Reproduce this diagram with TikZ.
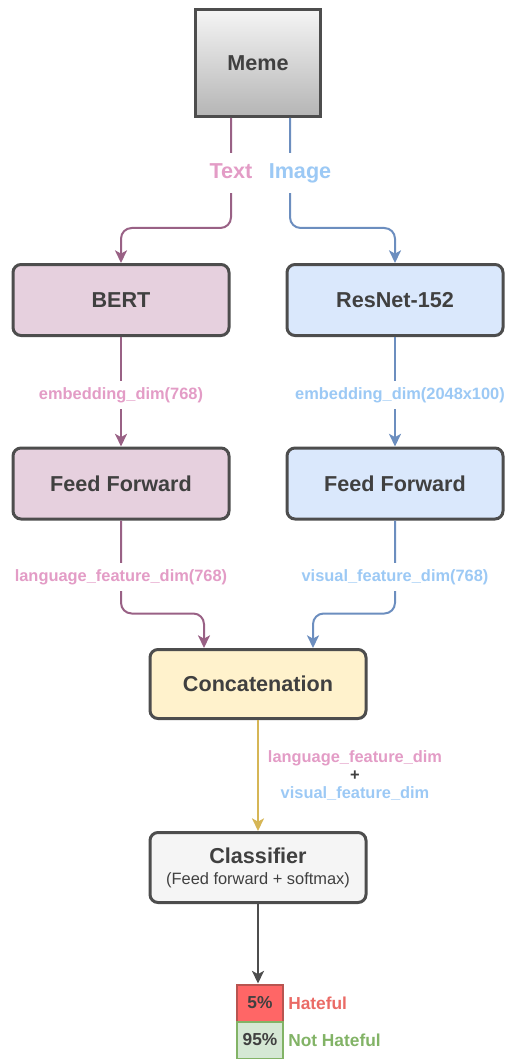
\documentclass[tikz,border=0pt]{standalone}
\usepackage{fontspec}
\setmainfont{Liberation Sans}
\usetikzlibrary{positioning,calc,arrows.meta}

\definecolor{boxline}{HTML}{4D4D4D}
\definecolor{labeltext}{HTML}{404040}
\definecolor{textpink}{HTML}{E39CC6}
\definecolor{imgblue}{HTML}{9CC9F5}
\definecolor{textline}{HTML}{996185}
\definecolor{imgline}{HTML}{6C8EBF}
\definecolor{bertfill}{HTML}{E6D0DE}
\definecolor{resfill}{HTML}{DAE8FC}
\definecolor{concatfill}{HTML}{FFF2CC}
\definecolor{concatline}{HTML}{D6B656}
\definecolor{clsfill}{HTML}{F5F5F5}
\definecolor{hatefill}{HTML}{FF6666}
\definecolor{hateline}{HTML}{B85450}
\definecolor{hatetext}{HTML}{EA6B66}
\definecolor{okfill}{HTML}{D5E8D4}
\definecolor{okline}{HTML}{82B366}

\tikzset{
  bigfont/.style={font=\fontsize{16.2}{18.5}\selectfont\bfseries},
  dimfont/.style={font=\fontsize{12.3}{13.5}\selectfont\bfseries},
  modelbox/.style={draw=boxline, line width=2.25pt, rounded corners=6pt,
    minimum width=162pt, minimum height=53.25pt, text=labeltext, bigfont},
  srclabel/.style={fill=white, inner xsep=1pt, inner ysep=7.5pt,
    text height=11.5pt, text depth=3.5pt, bigfont},
  dimlabel/.style={fill=white, inner xsep=1pt, inner ysep=4.5pt, dimfont},
  resultbox/.style={line width=1.5pt, minimum width=35pt, minimum height=27.75pt,
    text=labeltext, font=\fontsize{13}{15}\selectfont\bfseries},
  resultlabel/.style={anchor=west, inner sep=0pt, font=\fontsize{13}{15}\selectfont\bfseries},
  link/.style={line width=1.5pt, rounded corners=8pt,
    -{Stealth[length=9.5pt,width=9pt,inset=2.5pt]}},
}

\begin{document}
\begin{tikzpicture}[x=0.75pt, y=-0.75pt]
    \useasboundingbox (0,0) rectangle (505,1059);

    % Input meme
    \node[draw=boxline, line width=2.25pt, top color=gray!8, bottom color=gray!58,
      minimum width=93.75pt, minimum height=80.25pt, text=labeltext, bigfont] (meme) at (258,63) {Meme};

    % Encoders
    \node[modelbox, fill=bertfill] (bert) at (121,300) {BERT};
    \node[modelbox, fill=resfill] (resnet) at (395,300) {ResNet-152};

    % Feed forward layers
    \node[modelbox, fill=bertfill] (fftext) at (121,483.5) {Feed Forward};
    \node[modelbox, fill=resfill] (ffimg) at (395,483.5) {Feed Forward};

    % Fusion and classifier
    \node[modelbox, fill=concatfill, minimum height=51.75pt] (concat) at (258,684) {Concatenation};
    \node[modelbox, fill=clsfill, minimum height=52.5pt, align=center] (classifier) at (258,867.5)
      {Classifier\\[-2.75pt]{\fontsize{12.3}{14}\selectfont\mdseries (Feed forward + softmax)}};

    % Output
    \node[resultbox, draw=hateline, fill=hatefill] (hate) at (260,1003) {5\%};
    \node[resultbox, draw=okline, fill=okfill] (nothate) at (260,1040) {95\%};
    \node[resultlabel, text=hatetext] (hatelbl) at (288,1003) {Hateful};
    \node[resultlabel, text=okline] (nothatelbl) at (288,1040) {Not Hateful};

    % Text branch
    \draw[link, textline] ($(meme.south)+(-27,0)$) -- ++(0,110) -| (bert.north);
    \draw[link, textline] (bert) -- (fftext);
    \draw[link, textline] (fftext.south) -- ++(0,93) -| ($(concat.north)+(-54,0)$);

    % Image branch
    \draw[link, imgline] ($(meme.south)+(32,0)$) -- ++(0,110) -| (resnet.north);
    \draw[link, imgline] (resnet) -- (ffimg);
    \draw[link, imgline] (ffimg.south) -- ++(0,93) -| ($(concat.north)+(55,0)$);

    % Fusion to output
    \draw[link, concatline] (concat) -- (classifier);
    \draw[link, boxline] (classifier.south) -- (classifier.south |- hate.north);

    % Connector labels
    \node[srclabel, text=textpink] (textlbl) at (231,173) {Text};
    \node[srclabel, text=imgblue] (imagelbl) at (300,173) {Image};
    \node[dimlabel, text=textpink] (embtext) at (121,395) {embedding\_dim(768)};
    \node[dimlabel, text=imgblue] (embimg) at (400,395) {embedding\_dim(2048x100)};
    \node[dimlabel, text=textpink] (feattext) at (121,577) {language\_feature\_dim(768)};
    \node[dimlabel, text=imgblue] (featimg) at (395,577) {visual\_feature\_dim(768)};
    \node[dimfont, align=center] (featsum) at (355,776)
      {{\color{textpink}language\_feature\_dim}\\{\color{labeltext}+}\\{\color{imgblue}visual\_feature\_dim}};
\end{tikzpicture}
\end{document}
